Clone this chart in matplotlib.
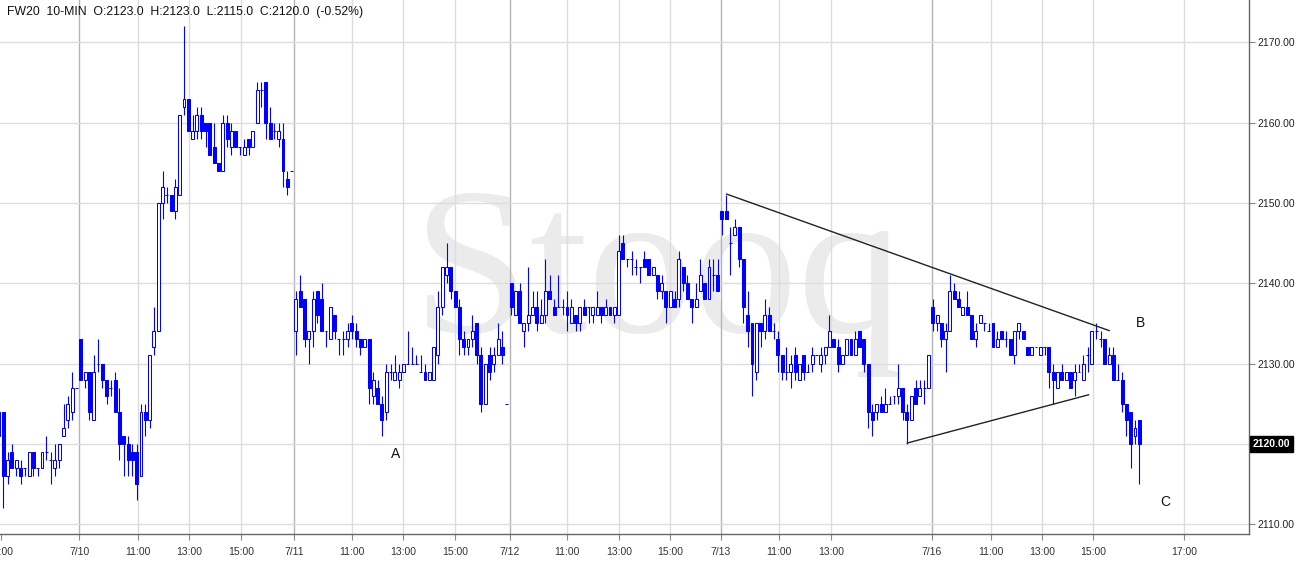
import matplotlib
matplotlib.use("Agg")
import numpy as np
import matplotlib.pyplot as plt

plt.rcParams['font.family'] = ['Liberation Sans', 'DejaVu Sans']

# FW20 10-min bars, 7/9 (tail) .. 7/16
opens = [2124, 2124, 2116, 2119, 2117, 2117, 2117, 2116, 2119, 2117, 2117, 2119, 2118, 2117, 2118, 2121, 2123, 2124, 2127,
         2133, 2128, 2129, 2123, 2130, 2130, 2128, 2127, 2128, 2124, 2121, 2120, 2119, 2119, 2116, 2124, 2123, 2132, 2134,
         2150, 2151, 2151, 2149, 2151, 2162, 2163, 2158, 2159, 2161, 2160, 2160, 2157, 2155, 2154, 2160, 2157, 2159, 2157,
         2156, 2158, 2157, 2160, 2164, 2165, 2160, 2159, 2158, 2158, 2153, 2154,
         2134, 2139, 2138, 2133, 2134, 2139, 2138, 2134, 2133, 2136, 2133, 2133, 2133, 2135, 2134, 2133, 2132, 2133, 2126,
         2127, 2125, 2124, 2129, 2128, 2128, 2129, 2130, 2130, 2130, 2129, 2129, 2128, 2128, 2131, 2137, 2141, 2142, 2139,
         2137, 2133, 2132, 2133, 2135, 2131, 2125, 2131, 2130, 2131, 2132, 2125,
         2140, 2136, 2139, 2134, 2135, 2136, 2137, 2135, 2136, 2139, 2137, 2137, 2137, 2137, 2135, 2136, 2135, 2137, 2137,
         2136, 2136, 2137, 2136, 2137, 2136, 2136, 2145, 2143, 2143, 2142, 2142, 2143, 2143, 2141, 2141, 2139, 2139, 2137,
         2138, 2138, 2142, 2140, 2138, 2137, 2139, 2140, 2138, 2141, 2141,
         2149, 2149, 2145, 2146, 2147, 2143, 2136, 2135, 2129, 2135, 2134, 2136, 2134, 2133, 2131, 2129, 2129, 2131, 2128,
         2131, 2129, 2130, 2131, 2130, 2131, 2132, 2133, 2132, 2130, 2131, 2133, 2131, 2134, 2133, 2130, 2124, 2124, 2125,
         2124, 2125, 2126, 2126, 2127, 2124, 2123, 2127, 2126, 2127, 2127,
         2137, 2135, 2135, 2133, 2134, 2139, 2138, 2136, 2137, 2136, 2133, 2135, 2135, 2134, 2135, 2132, 2134, 2133, 2133,
         2131, 2134, 2134, 2132, 2131, 2132, 2131, 2132, 2132, 2129, 2127, 2129, 2128, 2129, 2128, 2129, 2128, 2131, 2130,
         2134, 2133, 2133, 2130, 2131, 2128, 2128, 2125, 2124, 2121, 2123]
highs = [2124, 2124, 2119, 2120, 2118, 2118, 2117, 2119, 2119, 2117, 2119, 2121, 2119, 2120, 2120, 2125, 2126, 2129, 2127,
         2133, 2129, 2129, 2131, 2133, 2130, 2128, 2128, 2129, 2127, 2121, 2121, 2120, 2120, 2125, 2125, 2131, 2137, 2150,
         2154, 2152, 2151, 2153, 2161, 2172, 2163, 2161, 2162, 2162, 2160, 2160, 2160, 2155, 2161, 2161, 2160, 2159, 2157,
         2158, 2158, 2159, 2165, 2165, 2165, 2162, 2160, 2160, 2160, 2154, 2154,
         2139, 2141, 2138, 2134, 2139, 2139, 2140, 2134, 2137, 2136, 2133, 2134, 2135, 2136, 2135, 2133, 2133, 2133, 2129,
         2128, 2126, 2130, 2130, 2131, 2130, 2130, 2134, 2132, 2131, 2131, 2130, 2129, 2132, 2139, 2142, 2145, 2142, 2139,
         2138, 2134, 2133, 2136, 2135, 2132, 2130, 2132, 2132, 2135, 2134, 2125,
         2140, 2139, 2140, 2135, 2142, 2139, 2139, 2138, 2143, 2141, 2138, 2141, 2138, 2139, 2138, 2136, 2137, 2138, 2137,
         2137, 2139, 2137, 2138, 2137, 2137, 2146, 2146, 2143, 2144, 2143, 2142, 2144, 2143, 2142, 2141, 2141, 2139, 2139,
         2139, 2144, 2142, 2141, 2138, 2140, 2143, 2140, 2143, 2143, 2143,
         2149, 2151, 2147, 2148, 2147, 2143, 2139, 2135, 2135, 2135, 2138, 2137, 2135, 2134, 2131, 2132, 2131, 2132, 2130,
         2131, 2130, 2132, 2131, 2132, 2132, 2136, 2133, 2133, 2131, 2133, 2133, 2134, 2134, 2133, 2130, 2125, 2125, 2126,
         2127, 2126, 2126, 2130, 2127, 2125, 2126, 2128, 2128, 2128, 2131,
         2138, 2136, 2135, 2135, 2141, 2140, 2139, 2137, 2139, 2136, 2135, 2136, 2135, 2135, 2135, 2134, 2134, 2134, 2133,
         2134, 2135, 2134, 2132, 2132, 2132, 2132, 2132, 2132, 2130, 2129, 2130, 2129, 2129, 2130, 2130, 2131, 2132, 2134,
         2135, 2134, 2133, 2132, 2132, 2130, 2129, 2125, 2124, 2123, 2123]
lows = [2120, 2112, 2115, 2117, 2116, 2115, 2116, 2116, 2116, 2116, 2117, 2118, 2115, 2116, 2117, 2121, 2122, 2123, 2127,
        2128, 2127, 2123, 2123, 2129, 2127, 2125, 2126, 2124, 2118, 2116, 2116, 2116, 2113, 2116, 2121, 2122, 2131, 2134,
        2148, 2150, 2149, 2148, 2151, 2161, 2159, 2158, 2158, 2158, 2157, 2156, 2155, 2154, 2154, 2157, 2156, 2157, 2156,
        2156, 2156, 2157, 2160, 2162, 2158, 2158, 2158, 2157, 2152, 2151, 2154,
        2131, 2137, 2132, 2130, 2132, 2135, 2134, 2132, 2133, 2133, 2131, 2131, 2132, 2133, 2132, 2131, 2132, 2125, 2125,
        2125, 2121, 2123, 2128, 2128, 2127, 2129, 2130, 2130, 2130, 2129, 2128, 2128, 2128, 2130, 2136, 2140, 2138, 2137,
        2131, 2131, 2131, 2132, 2130, 2124, 2125, 2128, 2129, 2131, 2130, 2125,
        2136, 2136, 2135, 2132, 2134, 2136, 2134, 2135, 2135, 2138, 2136, 2137, 2136, 2134, 2135, 2134, 2134, 2136, 2135,
        2135, 2136, 2135, 2136, 2136, 2135, 2136, 2143, 2142, 2141, 2141, 2140, 2142, 2141, 2141, 2138, 2138, 2135, 2137,
        2137, 2137, 2139, 2138, 2135, 2137, 2139, 2138, 2138, 2139, 2139,
        2146, 2148, 2141, 2146, 2142, 2135, 2132, 2126, 2128, 2132, 2133, 2134, 2133, 2129, 2128, 2128, 2127, 2128, 2128,
        2128, 2129, 2129, 2131, 2129, 2130, 2132, 2132, 2129, 2130, 2131, 2131, 2131, 2132, 2129, 2122, 2121, 2123, 2124,
        2124, 2125, 2125, 2125, 2123, 2120, 2123, 2125, 2126, 2125, 2127,
        2134, 2134, 2132, 2129, 2134, 2138, 2137, 2136, 2136, 2133, 2132, 2135, 2134, 2134, 2132, 2132, 2133, 2132, 2131,
        2130, 2133, 2133, 2131, 2131, 2132, 2131, 2131, 2127, 2125, 2127, 2128, 2128, 2127, 2126, 2129, 2128, 2129, 2130,
        2133, 2132, 2130, 2130, 2128, 2128, 2124, 2121, 2117, 2120, 2115]
closes = [2121, 2116, 2118, 2117, 2118, 2116, 2117, 2119, 2117, 2117, 2119, 2119, 2118, 2118, 2120, 2122, 2125, 2127, 2127,
          2128, 2129, 2124, 2129, 2130, 2128, 2126, 2127, 2124, 2120, 2120, 2118, 2118, 2115, 2124, 2123, 2131, 2134, 2150,
          2152, 2151, 2149, 2152, 2161, 2163, 2159, 2159, 2161, 2159, 2159, 2156, 2155, 2154, 2160, 2158, 2159, 2157, 2157,
          2157, 2157, 2159, 2164, 2164, 2160, 2158, 2159, 2159, 2154, 2152, 2154,
          2138, 2137, 2133, 2134, 2138, 2136, 2134, 2134, 2137, 2134, 2133, 2133, 2134, 2134, 2133, 2132, 2133, 2127, 2128,
          2125, 2123, 2129, 2129, 2129, 2129, 2130, 2130, 2130, 2130, 2129, 2128, 2129, 2132, 2137, 2142, 2142, 2139, 2137,
          2133, 2132, 2133, 2134, 2131, 2125, 2130, 2129, 2131, 2133, 2131, 2125,
          2137, 2139, 2135, 2135, 2136, 2137, 2135, 2136, 2139, 2138, 2136, 2137, 2137, 2136, 2137, 2135, 2137, 2136, 2137,
          2137, 2137, 2136, 2137, 2136, 2137, 2144, 2143, 2143, 2143, 2142, 2142, 2142, 2141, 2142, 2139, 2140, 2137, 2139,
          2137, 2143, 2140, 2138, 2137, 2138, 2141, 2138, 2142, 2141, 2139,
          2148, 2148, 2145, 2147, 2143, 2137, 2134, 2130, 2135, 2134, 2136, 2134, 2134, 2131, 2129, 2129, 2130, 2129, 2130,
          2129, 2129, 2131, 2131, 2131, 2132, 2134, 2132, 2130, 2131, 2133, 2131, 2133, 2132, 2130, 2124, 2123, 2125, 2124,
          2125, 2125, 2126, 2127, 2124, 2123, 2126, 2125, 2127, 2127, 2131,
          2135, 2136, 2133, 2134, 2139, 2138, 2137, 2137, 2136, 2133, 2134, 2136, 2135, 2134, 2132, 2133, 2133, 2133, 2131,
          2134, 2135, 2133, 2131, 2132, 2132, 2132, 2132, 2129, 2128, 2129, 2128, 2129, 2127, 2129, 2129, 2130, 2131, 2134,
          2134, 2133, 2130, 2131, 2128, 2128, 2125, 2123, 2120, 2122, 2120]

# time axis labels, placed at fractional bar positions
tick_pos = [0.35, 18.66, 32.3, 44.15, 56.2, 68.6, 82.0, 93.9, 105.97, 118.7, 132.0, 144.1, 155.9,
            167.7, 181.3, 193.4, 216.8, 230.5, 242.4, 254.3, 275.4]
tick_labels = ["15:00", "7/10", "11:00", "13:00", "15:00", "7/11", "11:00", "13:00", "15:00", "7/12",
               "11:00", "13:00", "15:00", "7/13", "11:00", "13:00", "7/16", "11:00", "13:00", "15:00", "17:00"]
price_ticks = [2110, 2120, 2130, 2140, 2150, 2160, 2170]

# hand drawn triangle and wave labels
trend_upper = [(169.1, 2151.1), (258.0, 2134.1)]
trend_lower = [(211.1, 2120.1), (253.2, 2126.1)]
wave_labels = [("A", 92.2, 2118.7), ("B", 265.2, 2135.0), ("C", 271.1, 2112.7)]
last_price = 2120.0

o = np.array(opens, float)
h = np.array(highs, float)
l = np.array(lows, float)
c = np.array(closes, float)
x = np.arange(len(o))
blue = "#0000ff"

W, H = 1309, 564
fig = plt.figure(figsize=(W / 100, H / 100), dpi=100)
ax = fig.add_axes([0, 29.7 / H, 1248.7 / W, 1 - 29.7 / H])

# watermark sits under the grid and the candles
ax.text(0.5027, 1 - 332 / H, "Stooq", transform=fig.transFigure, family="Liberation Serif",
        fontsize=151, color="#ebebeb", ha="center", va="baseline", zorder=0.1)

ax.vlines(x, l, h, color=blue, lw=0.8, zorder=3)
fills = ["white" if cc > oo else blue for oo, cc in zip(o, c)]
ax.bar(x, np.abs(c - o), 0.68, bottom=np.minimum(o, c), color=fills,
       edgecolor=blue, linewidth=0.75, zorder=4)

for seg in (trend_upper, trend_lower):
    xs, ys = zip(*seg)
    ax.plot(xs, ys, color="#222222", lw=1.0, zorder=5)

for txt, tx, ty in wave_labels:
    ax.text(tx, ty, txt, fontsize=10, ha="center", va="center", color="#111111", zorder=6)

ax.set_xlim(0.233, 290.43)
ax.set_ylim(2108.73, 2175.27)

for p, lab in zip(tick_pos, tick_labels):
    if p < 1:
        continue
    ax.axvline(p, color="#b4b4b4" if "/" in lab else "#dddddd", lw=1, zorder=1)

ax.set_xticks(tick_pos)
ax.set_xticklabels(tick_labels)
ax.set_yticks(price_ticks)
# the last-price box below carries the 2120.00 label
ax.set_yticklabels(["" if v == last_price else f"{v:.2f}" for v in price_ticks])
ax.yaxis.tick_right()
ax.grid(axis="y", color="#dddddd", lw=1, zorder=1)

for s in ("left", "top"):
    ax.spines[s].set_visible(False)
for s in ("bottom", "right"):
    ax.spines[s].set_color("#666666")
    ax.spines[s].set_linewidth(1)

ax.tick_params(axis="x", direction="out", length=4, width=0.8, color="#888888",
               labelsize=7.5, labelcolor="#333333", pad=5)
ax.tick_params(axis="y", direction="out", length=4, width=0.8, color="#888888",
               labelsize=7.5, labelcolor="#222222", pad=2)

ax.annotate(f"{last_price:.2f}", xy=(1, last_price), xycoords=("axes fraction", "data"),
            xytext=(3, 0), textcoords="offset points", ha="left", va="center",
            fontsize=7.5, color="white", fontweight="bold",
            bbox=dict(boxstyle="square,pad=0.3", fc="black", ec="black"),
            annotation_clip=False, zorder=10)

fig.text(7 / W, 1 - 12 / H, "FW20  10-MIN  O:2123.0  H:2123.0  L:2115.0  C:2120.0  (-0.52%)",
         fontsize=8.8, ha="left", va="center", color="#111111")

fig.savefig("out.png", dpi=100)
